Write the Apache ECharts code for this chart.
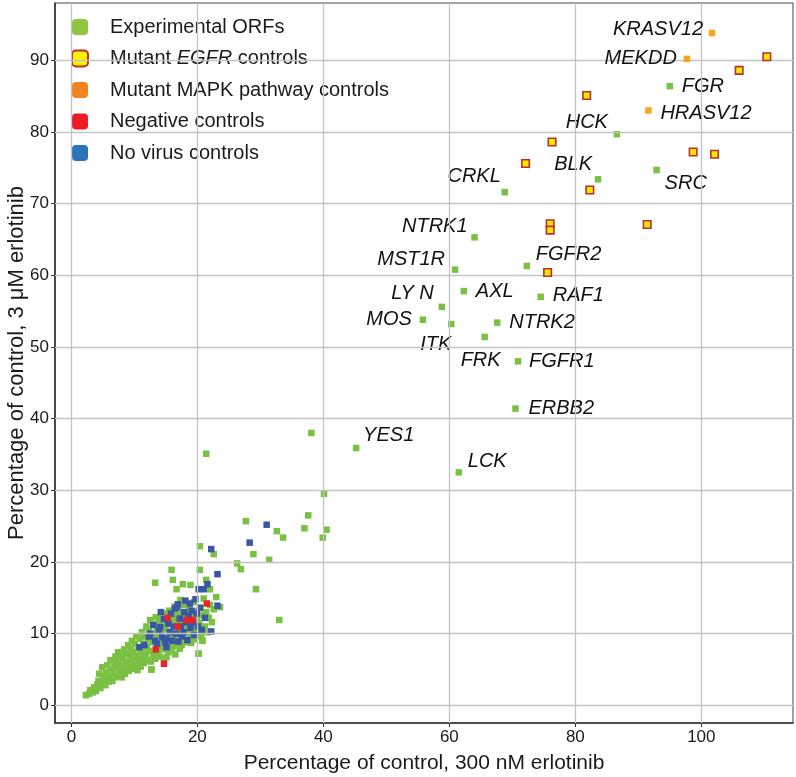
<!DOCTYPE html>
<html>
<head>
<meta charset="utf-8">
<script src="https://cdn.jsdelivr.net/npm/echarts@6/dist/echarts.min.js"></script>
<style>
html,body{margin:0;padding:0;background:#fff;}
#chart{width:796px;height:777px;}
</style>
</head>
<body>
<div id="chart"></div>
<script>
// ---------- DATA ----------
const xTicks = [0, 20, 40, 60, 80, 100];
const yTicks = [0, 10, 20, 30, 40, 50, 60, 70, 80, 90];

const orfNames = ['FGR','HCK','BLK','SRC','CRKL','NTRK1','MST1R','FGFR2','AXL','RAF1','LY N','MOS','ITK','NTRK2','FRK','FGFR1','ERBB2','YES1','LCK'];
const orfX = [95.0,86.6,83.6,92.9,68.8,64.0,60.9,72.3,62.3,74.5,58.8,55.8,60.3,67.6,65.6,70.9,70.5,45.2,61.5];
const orfY = [86.4,79.7,73.4,74.7,71.6,65.3,60.8,61.3,57.8,57.0,55.6,53.8,53.2,53.4,51.4,48.0,41.4,35.9,32.5];

const mapkNames = ['KRASV12','MEKDD','HRASV12'];
const mapkX = [101.7, 97.7, 91.6];
const mapkY = [93.8, 90.2, 83.0];

const egfrX = [110.4,106.0,81.8,76.3,72.1,98.7,102.1,82.3,76.0,76.0,91.4,75.6];
const egfrY = [90.5,88.6,85.1,78.6,75.6,77.2,76.9,71.9,67.2,66.3,67.1,60.4];

// experimental ORFs without labels (x, y)
const greenPts = [
 [2.3,1.4],[2.8,1.6],[3.0,2.1],[3.4,1.8],[3.6,2.5],[3.9,2.0],[4.1,2.9],[4.3,3.4],[4.6,2.4],[4.8,3.0],[4.4,4.4],[4.9,5.3],[5.2,3.6],[5.0,4.1],
 [5.4,2.8],[5.5,4.6],[5.7,5.6],[5.9,3.3],[6.0,4.0],[6.2,6.3],[6.3,5.0],[6.5,3.4],[6.6,4.4],[6.8,5.9],[6.9,3.9],[7.0,6.8],[7.1,5.2],[7.3,4.1],[7.4,7.4],[7.6,6.1],[7.7,4.7],[7.8,5.6],[7.9,7.0],[8.0,3.9],
 [8.2,6.6],[8.3,5.0],[8.4,7.8],[8.5,4.4],[8.7,6.0],[8.8,7.2],[8.9,5.4],[9.0,8.4],[9.1,4.8],[9.3,6.8],[9.4,7.9],[9.5,5.9],[9.6,9.0],[9.7,5.1],[9.8,7.4],[10.0,6.4],[10.1,8.6],[10.2,5.5],[10.3,9.6],[10.4,7.0],[10.5,4.9],[10.6,8.0],[10.8,6.2],[10.9,9.3],[11.0,7.5],[11.0,5.4],
 [11.2,10.2],[11.3,6.7],[11.4,8.6],[11.5,5.9],[11.6,9.6],[11.8,7.2],[11.9,11.0],[12.0,8.1],[12.1,6.3],[12.2,9.2],[12.3,10.4],[12.4,7.6],[12.5,11.9],[12.6,6.1],[12.7,5.0],[12.8,8.8],[12.9,10.0],[13.0,7.0],[13.1,11.3],[13.2,9.4],[13.3,6.5],[13.4,12.3],[13.5,8.3],[13.6,10.7],[13.7,7.3],[13.8,9.8],[13.9,11.8],[14.0,6.8],
 [14.1,12.1],[14.2,8.6],[14.3,10.2],[14.4,7.8],[14.5,11.0],[14.6,9.2],[14.7,6.4],[14.8,12.8],[14.9,8.1],[15.0,10.6],[15.1,6.7],[15.2,11.6],[15.3,9.0],[15.4,7.4],[15.5,13.2],[15.6,10.0],[15.7,8.5],[15.8,11.9],[15.9,7.8],[16.0,9.6],[16.1,12.6],[16.2,8.2],[16.3,10.9],[16.4,13.8],[16.5,7.1],[16.6,11.3],[16.7,9.1],[16.8,12.2],[16.9,8.6],[17.0,10.4],
 [17.1,13.0],[17.2,7.9],[17.3,11.7],[17.4,9.5],[17.5,8.4],[17.6,12.5],[17.7,10.1],[17.9,14.0],[18.0,9.0],[18.1,11.2],[18.3,12.9],[18.4,8.8],[18.5,10.6],[18.7,13.5],[18.8,9.7],[18.9,11.6],[19.0,8.7],[19.2,12.4],[19.3,10.3],[19.4,14.4],[19.5,9.2],[19.7,11.0],[19.8,13.1],[20.0,10.0],[20.0,12.0],
 [20.2,7.2],[20.3,11.4],[20.5,13.6],[20.6,9.6],[20.8,12.6],[20.8,9.0],[21.0,14.9],[21.2,11.0],[21.4,13.0],[21.6,10.2],[21.8,12.2],[22.0,14.0],[22.3,11.6],[22.6,13.4],[17.3,14.7],
 [38.1,38.0],[21.4,35.1],[40.1,29.5],[37.6,26.5],[27.7,25.7],[37.0,24.7],[40.5,24.5],[32.6,24.3],[33.6,23.4],[39.9,23.4],[20.4,22.2],[22.6,21.1],[28.9,21.1],[31.4,20.3],[26.3,19.8],[26.9,19.0],[20.4,18.9],[15.9,18.9],[16.1,17.5],[13.3,17.1],[17.7,16.9],[18.9,16.8],[16.7,16.2],[21.4,17.5],[22.0,16.2],[29.3,16.2],[23.0,15.1],[23.6,13.7],[33.0,11.9],[20.2,7.2],[20.8,9.0],[12.7,5.0]
];

const bluePts = [
 [10.8,8.1],[11.6,8.4],[12.3,9.6],[12.5,10.0],[13.0,11.2],[13.3,9.0],[13.6,8.6],[13.9,10.4],[14.1,10.9],[14.2,13.0],[14.4,9.5],[14.7,12.0],[14.9,8.8],[15.1,9.3],[15.1,8.1],[15.4,11.4],[15.6,10.2],[15.8,12.8],[16.0,9.0],[16.2,11.0],[16.4,13.5],[16.6,10.0],[16.8,13.7],[16.9,14.1],[17.0,8.9],[17.2,12.1],[17.4,11.0],[17.6,9.6],[17.8,10.2],[17.9,13.0],[18.1,14.6],[18.2,11.6],[18.4,9.1],[18.6,12.5],[18.8,14.2],[18.9,10.8],[19.1,13.2],[19.3,11.6],[19.5,9.8],[19.7,14.8],[19.9,12.8],[20.1,11.0],[20.4,13.6],[20.7,10.5],[21.2,12.2],[22.2,10.3],
 [20.2,16.2],[21.0,16.2],[21.6,16.9],[22.2,21.8],[23.2,18.3],[23.2,13.9],[28.3,22.7],[31.0,25.2]
];

const redPts = [[21.5,14.2],[15.3,12.2],[19.2,11.9],[13.4,7.8],[14.7,5.8],[16.9,11.0],[18.3,11.9]];

// ---------- STYLE ----------
const FONT = "'Liberation Sans', Arial, sans-serif";
const labelPlace = {
  KRASV12:['right',-9,-4], MEKDD:['right',-10,0], HRASV12:['left',12,3], FGR:['left',12,0],
  HCK:['right',-9,-12], BLK:['right',-6,-15], SRC:['left',8,13], CRKL:['right',-4,-16],
  NTRK1:['right',-7,-11], MST1R:['right',-10,-10], FGFR2:['left',9,-12], AXL:['left',12,0],
  RAF1:['left',12,-1], 'LY N':['right',-8,-13], MOS:['right',-11,0], ITK:['right',0,20],
  NTRK2:['left',12,0], FRK:['center',-4,23], FGFR1:['left',11,0], ERBB2:['left',13,0],
  YES1:['left',7,-13], LCK:['left',9,-11]
};
function labeled(name, x, y) {
  const p = labelPlace[name];
  return {
    name: name, value: [x, y],
    label: {
      show: true, formatter: name, position: 'inside',
      align: p[0], verticalAlign: 'middle', offset: [p[1], p[2]],
      fontFamily: FONT, fontStyle: 'italic', fontSize: 20, color: '#111'
    }
  };
}

const greenData = greenPts.map(p => ({value: p}))
  .concat(orfNames.map((n, i) => labeled(n, orfX[i], orfY[i])));
const mapkData = mapkNames.map((n, i) => labeled(n, mapkX[i], mapkY[i]));
const egfrData = egfrX.map((x, i) => [x, egfrY[i]]);

const gridLineStyle = {color: '#c4c4c4', width: 1.3, type: 'solid'};

const option = {
  animation: false,
  backgroundColor: '#fff',
  grid: {left: 55, right: 3, top: 3, bottom: 54, show: true, borderColor: '#444', borderWidth: 1,
         containLabel: false, outerBoundsMode: 'none'},
  xAxis: {
    type: 'value', min: -2.6, max: 114.55,
    name: 'Percentage of control, 300 nM erlotinib', nameLocation: 'middle', nameGap: 30,
    nameTextStyle: {fontFamily: FONT, fontSize: 21, color: '#1a1a1a'},
    axisLine: {show: true, onZero: false, lineStyle: {color: '#333', width: 1.6}},
    axisTick: {show: true, length: 4, customValues: xTicks, lineStyle: {color: '#333'}},
    axisLabel: {customValues: xTicks, fontFamily: FONT, fontSize: 17, color: '#1a1a1a', margin: 6},
    splitLine: {show: false}
  },
  yAxis: {
    type: 'value', min: -2.47, max: 98.0,
    name: 'Percentage of control, 3 \u03bcM erlotinib', nameLocation: 'middle', nameGap: 27,
    nameMoveOverlap: false,
    nameTextStyle: {fontFamily: FONT, fontSize: 22, color: '#1a1a1a'},
    axisLine: {show: true, onZero: false, lineStyle: {color: '#333', width: 1.6}},
    axisTick: {show: true, length: 4, customValues: yTicks, lineStyle: {color: '#333'}},
    axisLabel: {customValues: yTicks, fontFamily: FONT, fontSize: 17, color: '#1a1a1a', margin: 6},
    splitLine: {show: false}
  },
  legend: {
    orient: 'vertical', left: 66, top: 11,
    itemWidth: 16, itemHeight: 16, itemGap: 9.5,
    icon: 'roundRect',
    selectedMode: false,
    textStyle: {fontFamily: FONT, fontSize: 20, color: '#1a1a1a', lineHeight: 22, padding: [0,0,0,17],
      rich: {i: {fontFamily: FONT, fontSize: 20, fontStyle: 'italic', color: '#1a1a1a', lineHeight: 22}}},
    formatter: function (n) { return n === 'Mutant EGFR controls' ? 'Mutant {i|EGFR} controls' : n; },
    data: [
      {name: 'Experimental ORFs', itemStyle: {color: '#8cc63f', borderWidth: 0}},
      {name: 'Mutant EGFR controls', itemStyle: {color: '#fff200', borderColor: '#b5322c', borderWidth: 2}},
      {name: 'Mutant MAPK pathway controls', itemStyle: {color: '#f58220', borderWidth: 0}},
      {name: 'Negative controls', itemStyle: {color: '#ed1c24', borderWidth: 0}},
      {name: 'No virus controls', itemStyle: {color: '#2a74bb', borderWidth: 0}}
    ]
  },
  series: [
    {
      name: 'grid', type: 'scatter', data: [], z: 1, silent: true,
      markLine: {
        silent: true, symbol: ['none', 'none'], label: {show: false},
        lineStyle: gridLineStyle, animation: false,
        data: xTicks.map(v => ({xAxis: v})).concat(yTicks.map(v => ({yAxis: v})))
      }
    },
    {
      name: 'Experimental ORFs', type: 'scatter', symbol: 'rect', symbolSize: 6.5, z: 2,
      itemStyle: {color: '#7ac143', opacity: 1}, data: greenData
    },
    {
      name: 'No virus controls', type: 'scatter', symbol: 'rect', symbolSize: 6.5, z: 3,
      itemStyle: {color: '#3a56a6', opacity: 1}, data: bluePts
    },
    {
      name: 'Negative controls', type: 'scatter', symbol: 'rect', symbolSize: 6.5, z: 4,
      itemStyle: {color: '#ec2227', opacity: 1}, data: redPts
    },
    {
      name: 'Mutant EGFR controls', type: 'scatter', symbol: 'rect', symbolSize: 7.5, z: 5,
      itemStyle: {color: '#ffe600', borderColor: '#b5322c', borderWidth: 1.6, opacity: 1}, data: egfrData
    },
    {
      name: 'Mutant MAPK pathway controls', type: 'scatter', symbol: 'rect', symbolSize: 6.5, z: 5,
      itemStyle: {color: '#f8a51c', opacity: 1}, data: mapkData
    }
  ]
};

const chart = echarts.init(document.getElementById('chart'), null, {renderer: 'canvas'});
chart.setOption(option);
</script>
</body>
</html>
